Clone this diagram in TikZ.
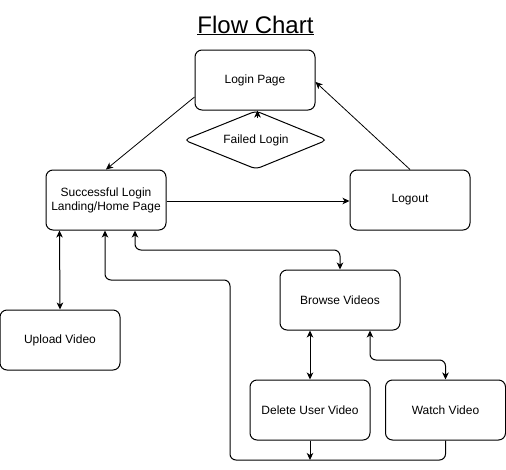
\documentclass[tikz,border=0pt]{standalone}
\usepackage{fontspec}
\setmainfont{Liberation Sans}
\usetikzlibrary{arrows.meta}
\begin{document}
\begin{tikzpicture}[x=1pt,y=-1pt,
  box/.style={draw,line width=1pt,rounded corners=7pt,minimum width=120pt,minimum height=60pt,inner sep=0pt,align=center,font=\fontsize{12}{14}\selectfont},
  label/.style={inner sep=0pt,font=\fontsize{12}{14}\selectfont},
  dia/.style={draw,line width=1pt,rounded corners=5pt},
  conn/.style={line width=1pt,-{Stealth[length=7pt,width=6.5pt,inset=2pt]}},
  dconn/.style={line width=1pt,{Stealth[length=7pt,width=6.5pt,inset=2pt]}-{Stealth[length=7pt,width=6.5pt,inset=2pt]},rounded corners=6pt},
  thin/.style={line width=0.8pt,-{Stealth[length=7pt,width=6.5pt,inset=2pt]}}]
\useasboundingbox (0,0) rectangle (506,469);
\fill[white] (0,0) rectangle (506,469);
\node[font=\fontsize{24}{28}\selectfont,anchor=base,inner sep=0pt] (title) at (255.5,33) {\underline{Flow Chart}};
\node[box] (login) at (255,80) {Login Page};
\node[label] (fail) at (256,140) {Failed Login};
\coordinate (ft) at (256,111);
\coordinate (fb) at (256,169);
\coordinate (fl) at (184,140);
\coordinate (fr) at (327,140);
\draw[dia] (ft) -- (fr) -- (fb) -- (fl) -- cycle;
\node[box] (succ) at (106,200) {Successful Login\\Landing/Home Page};
\node[box] (logout) at (410,200) {Logout};
\node[box] (upload) at (60,340) {Upload Video};
\node[box] (browse) at (340,300) {Browse Videos};
\node[box] (del) at (310,410) {Delete User Video};
\node[box] (watch) at (445.5,410) {Watch Video};
\coordinate (bus) at (310,460);
% connectors
\draw[thin] ([yshift=-17pt]login.west) -- (succ.north);
\draw[thin] (logout.north) -- ([yshift=-2pt]login.east);
\draw[conn] (257.5,118) -- (257.5,110.5);
\draw[conn] ([yshift=-1pt]succ.east) -- ([yshift=-1pt]logout.west);
\draw[dconn] ([xshift=14pt]succ.south west) -- (upload.north);
\draw[conn,rounded corners=6pt] (watch.south) -- (watch.south |- bus) -- (230,460) -- (230,280) -- (105,280) -- ([xshift=-1pt]succ.south);
\draw[conn] (del.south) -- (bus);
\draw[dconn] ([xshift=29pt]succ.south) -- (135,250) -- (340,250) -- (browse.north);
\draw[dconn] ([xshift=-30pt]browse.south) -- (del.north);
\draw[dconn] ([xshift=30pt]browse.south) -- (370,360) -- (445.5,360) -- (watch.north);
\end{tikzpicture}
\end{document}
